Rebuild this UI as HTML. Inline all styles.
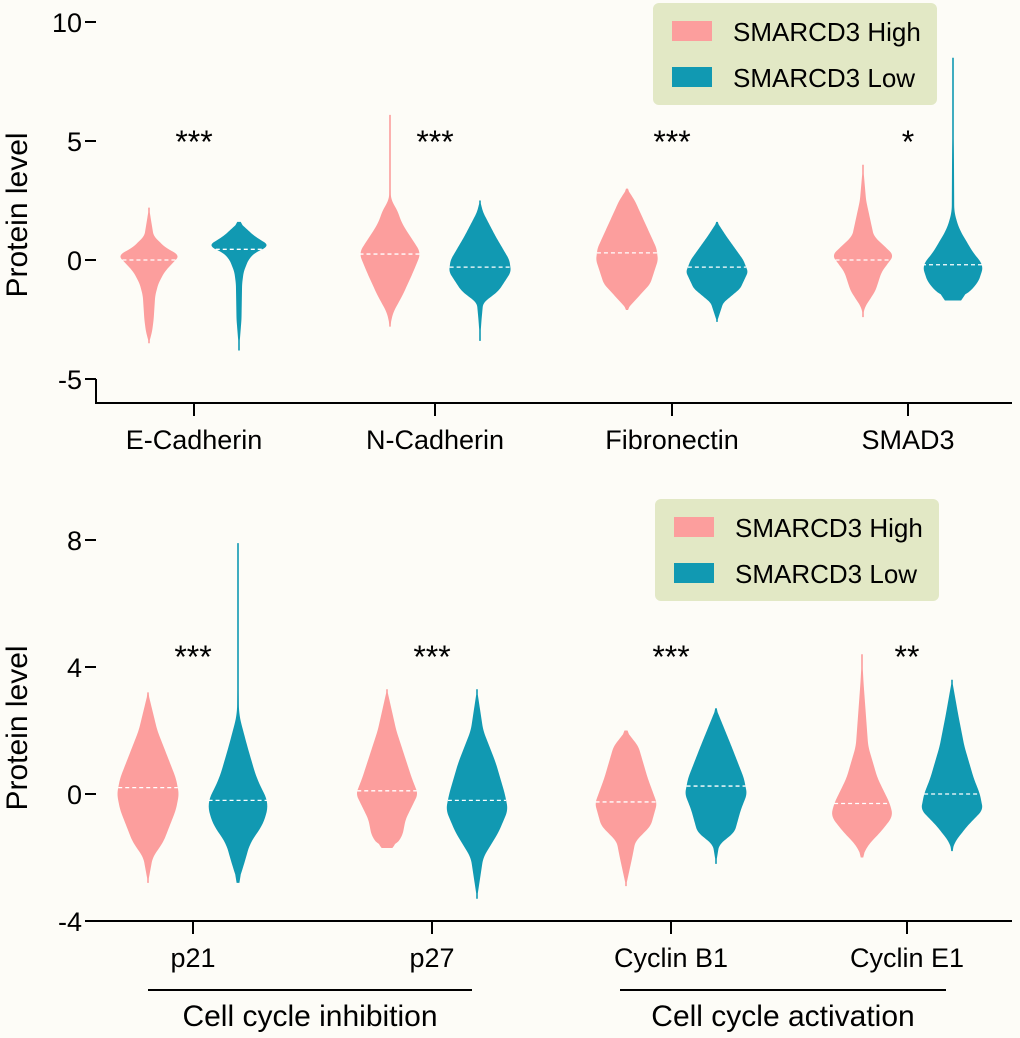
<!DOCTYPE html>
<html><head><meta charset="utf-8"><style>
body{margin:0;background:#fdfcf7;}
svg{display:block;font-family:"Liberation Sans",sans-serif;}
</style></head><body>
<svg id="c" width="1020" height="1038"></svg>
<script>
const NS="http://www.w3.org/2000/svg";
const svg=document.getElementById('c');
// ---- data ----
const topCategories=["E-Cadherin","N-Cadherin","Fibronectin","SMAD3"];
const topSig=["***","***","***","*"];
const topTicks=[-5,0,5,10];
const botCategories=["p21","p27","Cyclin B1","Cyclin E1"];
const botSig=["***","***","***","**"];
const botTicks=[-4,0,4,8];
// profiles: values (y levels) and relative densities
const topHighVals=[[2.2,1.0,0.5,0.2,-0.5,-1,-1.5,-2.5,-3,-3.5],[6.1,2.5,2.2,1.5,0.5,0.3,-0.5,-1.5,-2.2,-2.8],[3,2.5,1.5,0.5,0,-1,-1.5,-2,-2.1],[4,2.5,1,0.2,-0.5,-1.3,-2,-2.4]];
const topHighDens=[[0,0.15,0.55,1,0.5,0.3,0.2,0.15,0.1,0],[0,0.03,0.2,0.4,0.9,1,0.75,0.4,0.1,0],[0,0.25,0.6,0.95,1,0.75,0.4,0.05,0],[0,0.1,0.35,1,0.6,0.4,0.05,0]];
const topLowVals=[[1.6,1.0,0.6,0.3,0,-0.5,-1,-2.5,-3.8],[2.5,2,1,0,-0.5,-1.3,-1.8,-2.5,-3.4],[1.6,1,0,-0.5,-1.2,-1.8,-2.6],[8.5,4.5,2,1.3,0.2,-0.2,-1,-1.6,-1.7]];
const topLowDens=[[0,0.5,1,0.5,0.3,0.15,0.1,0.08,0],[0,0.1,0.5,0.95,1,0.6,0.1,0.05,0],[0,0.3,0.85,1,0.75,0.2,0],[0,0.03,0.04,0.2,0.7,1,0.8,0.3,0]];
const topHighMed=[0,0.25,0.3,0];
const topLowMed=[0.45,-0.3,-0.3,-0.2];
const botHighVals=[[3.2,2,0.5,0,-0.5,-1.5,-2,-2.8],[3.3,2,0.5,0,-0.8,-1.3,-1.6,-1.7],[2,1.5,0.5,-0.3,-1,-1.5,-2,-2.9],[4.4,3.5,1.5,0.5,-0.3,-0.7,-1.2,-1.6,-2]];
const botHighDens=[[0,0.3,0.9,1,0.9,0.5,0.15,0],[0,0.3,0.8,1,0.6,0.5,0.3,0],[0,0.4,0.7,1,0.8,0.3,0.2,0],[0,0.05,0.2,0.5,0.9,1,0.6,0.2,0]];
const botLowVals=[[7.9,2.5,1.5,0.5,-0.3,-1,-1.5,-2.2,-2.8],[3.3,2,1,0,-0.5,-1.2,-2,-3.3],[2.7,1.5,0.5,0,-0.5,-1.2,-1.6,-2.2],[3.6,2.5,1.5,0.5,0,-0.5,-1,-1.5,-1.8]];
const botLowDens=[[0,0.03,0.3,0.6,1,0.8,0.4,0.2,0],[0,0.2,0.6,0.9,1,0.7,0.2,0],[0,0.5,0.9,1,0.8,0.6,0.1,0],[0,0.2,0.4,0.7,0.9,1,0.5,0.1,0]];
const botHighMed=[0.2,0.1,-0.25,-0.3];
const botLowMed=[-0.2,-0.2,0.25,0];
// ---- drawing ----
function el(t,a,p){const e=document.createElementNS(NS,t);for(const k in a)e.setAttribute(k,a[k]);(p||svg).appendChild(e);return e;}
function txt(s,a){const e=el('text',a);e.textContent=s;return e;}
const HIGH="#fc9e9d",LOW="#1199b2";
function interp(vals,dens,v){for(let i=0;i<vals.length-1;i++){if(v<=vals[i]&&v>=vals[i+1]){const t=(vals[i]-v)/(vals[i]-vals[i+1]);return dens[i]+(dens[i+1]-dens[i])*t;}}return 0;}
function violin(cx,vals,dens,med,y,hw,color,name){
  const N=120,top=vals[0],bot=vals[vals.length-1];
  let ws=[],ys=[];
  for(let k=0;k<=N;k++){const v=top+(bot-top)*k/N;ys.push(y(v));ws.push(interp(vals,dens,v));}
  let sm=ws.map((w,k)=>{let s=0,c=0;for(let j=-3;j<=3;j++){const q=k+j;if(q>=0&&q<=N){s+=ws[q];c++;}}return Math.max(s/c*hw,0.8);});
  let L=[],R=[];
  for(let k=0;k<=N;k++){R.push((cx+sm[k])+","+ys[k]);L.unshift((cx-sm[k])+","+ys[k]);}
  const p=el('polygon',{points:R.concat(L).join(" "),fill:color});
  
  
  const mw=interp(vals,dens,med)*hw;
  const l=el('line',{x1:cx-mw,x2:cx+mw,y1:y(med),y2:y(med),stroke:"#fff","stroke-width":1.3,"stroke-dasharray":"4,3"});
  
  
}
function panel(o){
  const y=v=>o.y0+(v-o.ymin)/(o.ymax-o.ymin)*(o.y1-o.y0);
  const ax=el('line',{x1:96,x2:96,y1:y(o.ymax),y2:o.axisBottom,stroke:"#000","stroke-width":2});
  
  const xa=el('line',{x1:95,x2:1012,y1:o.axisBottom,y2:o.axisBottom,stroke:"#000","stroke-width":2});
  
  o.ticks.forEach(t=>{el('line',{x1:85,x2:96,y1:y(t),y2:y(t),stroke:"#000","stroke-width":2});
    const tl=txt(String(t),{x:82,y:y(t)+10,"text-anchor":"end","font-size":27});
    });
  const yt=txt("Protein level",{x:0,y:0,"font-size":30,"text-anchor":"middle",transform:`translate(27,${o.labelY}) rotate(-90)`});
  
  o.cats.forEach((c,i)=>{const cx=o.cx[i];
    el('line',{x1:cx,x2:cx,y1:o.axisBottom,y2:o.axisBottom+13,stroke:"#000","stroke-width":2});
    const cl=txt(c,{x:cx,y:o.axisBottom+46,"text-anchor":"middle","font-size":27});
    
    violin(cx-45,o.hv[i],o.hd[i],o.hm[i],y,o.hw,HIGH,o.pfx+'-violin-high');
    violin(cx+45,o.lv[i],o.ld[i],o.lm[i],y,o.hw,LOW,o.pfx+'-violin-low');
    const s=txt(o.sig[i],{x:cx,y:o.sigY,"text-anchor":"middle","font-size":32});
    
  });
  const lg=el('rect',{x:o.lx,y:o.ly,width:284,height:102,rx:6,fill:"#e2e8c5"});
  
  [["SMARCD3 High",HIGH],["SMARCD3 Low",LOW]].forEach((e,i)=>{
    const r=el('rect',{x:o.lx+19,y:o.ly+18+i*46,width:40,height:20,fill:e[1]});
    
    const t=txt(e[0],{x:o.lx+80,y:o.ly+38+i*46,"font-size":26});
    
  });
}
panel({pfx:"top",ymin:10,ymax:-5,y0:22,y1:379,axisBottom:403,ticks:topTicks,labelY:215,cats:topCategories,cx:[194,435,672,908],
  hv:topHighVals,hd:topHighDens,hm:topHighMed,lv:topLowVals,ld:topLowDens,lm:topLowMed,hw:31,sig:topSig,sigY:153,lx:653,ly:3});
panel({pfx:"bottom",ymin:8,ymax:-4,y0:540,y1:921,axisBottom:921,ticks:botTicks,labelY:728,cats:botCategories,cx:[193,432,671,907],
  hv:botHighVals,hd:botHighDens,hm:botHighMed,lv:botLowVals,ld:botLowDens,lm:botLowMed,hw:31,sig:botSig,sigY:668,lx:655,ly:499});
[[148,472,"Cell cycle inhibition"],[620,946,"Cell cycle activation"]].forEach(g=>{
  const l=el('line',{x1:g[0],x2:g[1],y1:990,y2:990,stroke:"#000","stroke-width":2});
  
  const t=txt(g[2],{x:(g[0]+g[1])/2,y:1026,"text-anchor":"middle","font-size":30});
  
});
</script>
</body></html>
